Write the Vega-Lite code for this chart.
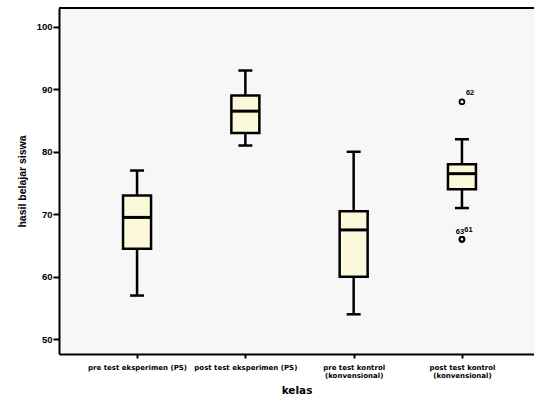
{
  "$schema": "https://vega.github.io/schema/vega-lite/v6.json",
  "width": 475,
  "height": 346,
  "autosize": {"type": "none"},
  "padding": {"left": 59, "top": 8, "right": 0, "bottom": 45},
  "background": "white",
  "config": {
    "font": "Liberation Sans",
    "view": {"fill": "#f7f7f7", "stroke": null},
    "tick": {"opacity": 1},
    "point": {"opacity": 1},
    "axis": {
      "domainColor": "black",
      "domainWidth": 2,
      "tickColor": "black",
      "tickWidth": 2,
      "labelColor": "black",
      "labelFontWeight": "bold",
      "titleColor": "black",
      "titleFontWeight": "bold",
      "grid": false
    },
    "axisY": {
      "tickSize": 6,
      "labelPadding": 1,
      "labelFontSize": 9.5,
      "titleFontSize": 10.5,
      "titlePadding": 9
    },
    "axisX": {
      "tickSize": 4,
      "labelPadding": 5,
      "labelFont": "DejaVu Sans",
      "labelFontSize": 7,
      "labelLineHeight": 8,
      "labelAngle": 0,
      "labelLimit": 0,
      "labelOverlap": false,
      "titleFont": "DejaVu Sans",
      "titleFontSize": 10.5,
      "titlePadding": 7
    }
  },
  "datasets": {
    "ringkasan": [
      {"kelas": "pre test eksperimen (PS)", "min": 57, "q1": 64.5, "median": 69.5, "q3": 73, "max": 77},
      {"kelas": "post test eksperimen (PS)", "min": 81, "q1": 83, "median": 86.5, "q3": 89, "max": 93},
      {"kelas": "pre test kontrol (konvensional)", "min": 54, "q1": 60, "median": 67.5, "q3": 70.5, "max": 80},
      {"kelas": "post test kontrol (konvensional)", "min": 71, "q1": 74, "median": 76.5, "q3": 78, "max": 82}
    ],
    "pencilan": [
      {"kelas": "post test kontrol (konvensional)", "nilai": 88, "id": "62"},
      {"kelas": "post test kontrol (konvensional)", "nilai": 66, "id": "63"},
      {"kelas": "post test kontrol (konvensional)", "nilai": 66, "id": "61"}
    ]
  },
  "layer": [
    {
      "data": {"name": "ringkasan"},
      "mark": {"type": "rule", "color": "black", "strokeWidth": 2.5},
      "encoding": {
        "x": {
          "field": "kelas",
          "type": "nominal",
          "sort": ["pre test eksperimen (PS)", "post test eksperimen (PS)", "pre test kontrol (konvensional)", "post test kontrol (konvensional)"],
          "scale": {"type": "point", "padding": 0.693, "align": 0.52},
          "axis": {
            "title": "kelas",
            "labelExpr": "indexof(datum.value, 'kontrol') > 0 ? [substring(datum.value, 0, indexof(datum.value, ' (')), substring(datum.value, indexof(datum.value, ' (') + 1)] : datum.value"
          }
        },
        "y": {
          "field": "min",
          "type": "quantitative",
          "scale": {"domain": [47.65, 103], "nice": false, "zero": false},
          "axis": {"title": "hasil belajar siswa", "values": [50, 60, 70, 80, 90, 100]}
        },
        "y2": {"field": "q1"}
      }
    },
    {
      "data": {"name": "ringkasan"},
      "mark": {"type": "rule", "color": "black", "strokeWidth": 2.5},
      "encoding": {
        "x": {"field": "kelas", "type": "nominal", "sort": ["pre test eksperimen (PS)", "post test eksperimen (PS)", "pre test kontrol (konvensional)", "post test kontrol (konvensional)"]},
        "y": {"field": "q3", "type": "quantitative", "title": "hasil belajar siswa"},
        "y2": {"field": "max"}
      }
    },
    {
      "data": {"name": "ringkasan"},
      "mark": {"type": "tick", "color": "black", "size": 14, "thickness": 2.5},
      "encoding": {
        "x": {"field": "kelas", "type": "nominal", "sort": ["pre test eksperimen (PS)", "post test eksperimen (PS)", "pre test kontrol (konvensional)", "post test kontrol (konvensional)"]},
        "y": {"field": "min", "type": "quantitative", "title": "hasil belajar siswa"}
      }
    },
    {
      "data": {"name": "ringkasan"},
      "mark": {"type": "tick", "color": "black", "size": 14, "thickness": 2.5},
      "encoding": {
        "x": {"field": "kelas", "type": "nominal", "sort": ["pre test eksperimen (PS)", "post test eksperimen (PS)", "pre test kontrol (konvensional)", "post test kontrol (konvensional)"]},
        "y": {"field": "max", "type": "quantitative", "title": "hasil belajar siswa"}
      }
    },
    {
      "data": {"name": "ringkasan"},
      "mark": {"type": "bar", "width": 28, "fill": "#fcf8da", "stroke": "black", "strokeWidth": 2.5, "opacity": 1},
      "encoding": {
        "x": {"field": "kelas", "type": "nominal", "sort": ["pre test eksperimen (PS)", "post test eksperimen (PS)", "pre test kontrol (konvensional)", "post test kontrol (konvensional)"]},
        "y": {"field": "q1", "type": "quantitative", "title": "hasil belajar siswa"},
        "y2": {"field": "q3"}
      }
    },
    {
      "data": {"name": "ringkasan"},
      "mark": {"type": "tick", "color": "black", "size": 28, "thickness": 3},
      "encoding": {
        "x": {"field": "kelas", "type": "nominal", "sort": ["pre test eksperimen (PS)", "post test eksperimen (PS)", "pre test kontrol (konvensional)", "post test kontrol (konvensional)"]},
        "y": {"field": "median", "type": "quantitative", "title": "hasil belajar siswa"}
      }
    },
    {
      "data": {"name": "pencilan"},
      "mark": {"type": "point", "shape": "circle", "filled": false, "color": "black", "size": 24, "strokeWidth": 1.8},
      "encoding": {
        "x": {"field": "kelas", "type": "nominal", "sort": ["pre test eksperimen (PS)", "post test eksperimen (PS)", "pre test kontrol (konvensional)", "post test kontrol (konvensional)"]},
        "y": {"field": "nilai", "type": "quantitative", "title": "hasil belajar siswa"}
      }
    },
    {
      "data": {"name": "pencilan"},
      "transform": [{"filter": "datum.id === '62'"}],
      "mark": {"type": "text", "align": "left", "baseline": "middle", "dx": 4, "dy": -9, "fontSize": 7.5, "fontWeight": "bold", "color": "black"},
      "encoding": {
        "x": {"field": "kelas", "type": "nominal", "sort": ["pre test eksperimen (PS)", "post test eksperimen (PS)", "pre test kontrol (konvensional)", "post test kontrol (konvensional)"]},
        "y": {"field": "nilai", "type": "quantitative", "title": "hasil belajar siswa"},
        "text": {"field": "id"}
      }
    },
    {
      "data": {"name": "pencilan"},
      "transform": [{"filter": "datum.id === '63'"}],
      "mark": {"type": "text", "align": "center", "baseline": "middle", "dx": -2, "dy": -7, "fontSize": 7.5, "fontWeight": "bold", "color": "black"},
      "encoding": {
        "x": {"field": "kelas", "type": "nominal", "sort": ["pre test eksperimen (PS)", "post test eksperimen (PS)", "pre test kontrol (konvensional)", "post test kontrol (konvensional)"]},
        "y": {"field": "nilai", "type": "quantitative", "title": "hasil belajar siswa"},
        "text": {"field": "id"}
      }
    },
    {
      "data": {"name": "pencilan"},
      "transform": [{"filter": "datum.id === '61'"}],
      "mark": {"type": "text", "align": "center", "baseline": "middle", "dx": 6.5, "dy": -9, "fontSize": 7.5, "fontWeight": "bold", "color": "black"},
      "encoding": {
        "x": {"field": "kelas", "type": "nominal", "sort": ["pre test eksperimen (PS)", "post test eksperimen (PS)", "pre test kontrol (konvensional)", "post test kontrol (konvensional)"]},
        "y": {"field": "nilai", "type": "quantitative", "title": "hasil belajar siswa"},
        "text": {"field": "id"}
      }
    },
    {
      "data": {"name": "ringkasan"},
      "mark": {"type": "rule", "color": "black", "strokeWidth": 2},
      "encoding": {
        "y": {"datum": 103, "type": "quantitative", "title": "hasil belajar siswa"}
      }
    }
  ]
}
